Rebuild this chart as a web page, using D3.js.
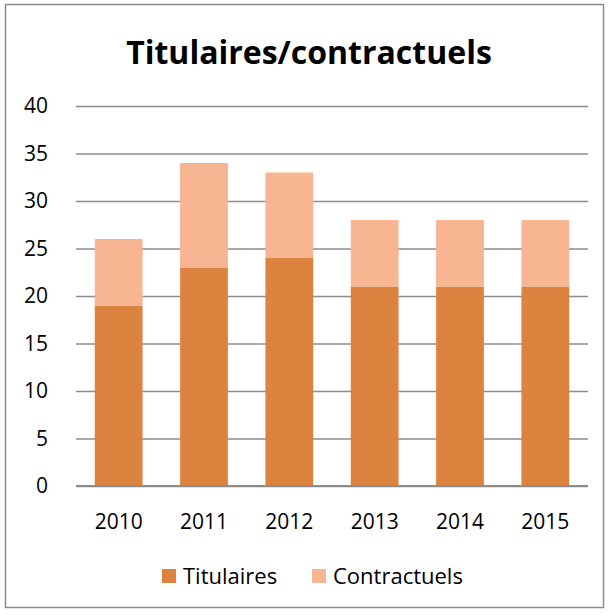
<!DOCTYPE html>
<html>
<head>
<meta charset="utf-8">
<script src="https://cdn.jsdelivr.net/npm/d3@7"></script>
<style>
  body { margin: 0; background: #fff; }
  text { font-family: "Open Sans", "Liberation Sans", sans-serif; fill: #000; }
  .grid line { stroke: #8c8c8c; stroke-width: 1.5; }
  .grid path { display: none; }
</style>
</head>
<body>
<div id="graph"></div>
<script>
// chart data
var years = ["2010", "2011", "2012", "2013", "2014", "2015"];
var titulaires = [19, 23, 24, 21, 21, 21];
var contractuels = [7, 11, 9, 7, 7, 7];
var yTicks = [0, 5, 10, 15, 20, 25, 30, 35, 40];
var seriesNames = ["Titulaires", "Contractuels"];
var colors = ["#dc843f", "#f8b591"];

var W = 609, H = 615;
var margin = { top: 106, right: 21, bottom: 129, left: 76 },
    width = W - margin.left - margin.right,
    height = H - margin.top - margin.bottom;

var svg = d3.select("#graph")
    .append("svg")
    .attr("width", W)
    .attr("height", H);

// outer frame
svg.append("rect")
    .attr("x", 5.5).attr("y", 4.5)
    .attr("width", 598).attr("height", 603)
    .attr("fill", "#fff")
    .attr("stroke", "#8c8c8c")
    .attr("stroke-width", 1.5);

svg.append("text")
    .attr("x", 309).attr("y", 64)
    .attr("text-anchor", "middle")
    .style("font-size", "32px")
    .style("font-weight", "bold")
    .text("Titulaires/contractuels");

var g = svg.append("g")
    .attr("transform", "translate(" + margin.left + "," + margin.top + ")");

var x = d3.scaleBand().domain(years).range([0, width]).paddingInner(0.44).paddingOuter(0.22);
var y = d3.scaleLinear().domain([0, 40]).range([height, 0]);

// Y grid
g.append("g")
    .attr("class", "grid")
    .call(d3.axisLeft(y).tickValues(yTicks).tickSize(-width).tickFormat(""));

// stacked bars
var rows = years.map(function (yr, i) {
    return { year: yr, Titulaires: titulaires[i], Contractuels: contractuels[i] };
});
var stacked = d3.stack().keys(seriesNames)(rows);

g.selectAll(".serie")
    .data(stacked)
    .enter().append("g")
    .attr("fill", function (d, i) { return colors[i]; })
    .selectAll("rect")
    .data(function (d) { return d; })
    .enter().append("rect")
    .attr("x", function (d) { return x(d.data.year); })
    .attr("y", function (d) { return y(d[1]); })
    .attr("width", x.bandwidth())
    .attr("height", function (d) { return y(d[0]) - y(d[1]); });

// baseline
g.append("line")
    .attr("x1", 0).attr("x2", width)
    .attr("y1", y(0)).attr("y2", y(0))
    .attr("stroke", "#8c8c8c").attr("stroke-width", 2);

// Y labels
g.append("g")
    .selectAll("text")
    .data(yTicks)
    .enter().append("text")
    .attr("x", -28)
    .attr("y", function (d) { return y(d); })
    .attr("dy", "0.35em")
    .attr("text-anchor", "end")
    .style("font-size", "21px")
    .text(function (d) { return d; });

// X labels
g.append("g")
    .selectAll("text")
    .data(years)
    .enter().append("text")
    .attr("x", function (d) { return x(d) + x.bandwidth() / 2; })
    .attr("y", height + 43)
    .attr("text-anchor", "middle")
    .style("font-size", "21px")
    .text(function (d) { return d; });

// legend
var legendX = [162, 312];
var leg = svg.append("g").selectAll("g")
    .data(seriesNames)
    .enter().append("g")
    .attr("transform", function (d, i) { return "translate(" + legendX[i] + ",569)"; });
leg.append("rect")
    .attr("width", 14).attr("height", 14)
    .attr("fill", function (d, i) { return colors[i]; });
leg.append("text")
    .attr("x", 21).attr("y", 7)
    .attr("dy", "0.35em")
    .style("font-size", "22px")
    .text(function (d) { return d; });
</script>
</body>
</html>
